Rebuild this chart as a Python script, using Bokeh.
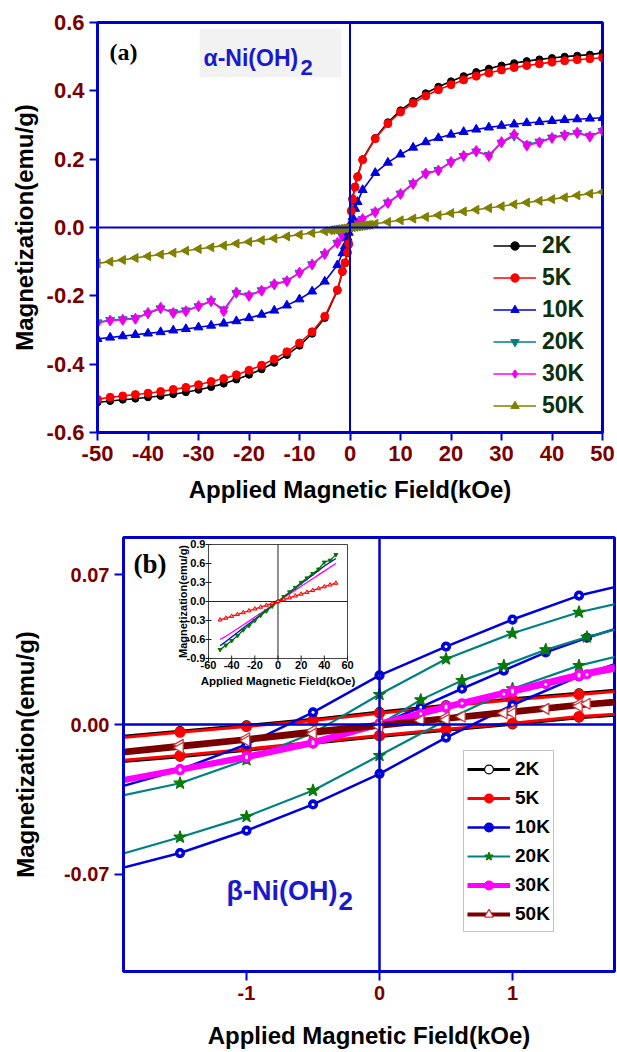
import math
from bokeh.plotting import figure
from bokeh.layouts import column
from bokeh.models import (Range1d, Span, Legend, LegendItem, FixedTicker, Label,
                          NumeralTickFormatter, BoxAnnotation)
from bokeh.core.properties import value
from bokeh.embed import file_html
from bokeh.resources import INLINE

# ---------------- panel (a) data : alpha-Ni(OH)2 ----------------
field_a = [-50, -47.5, -45, -42.5, -40, -37.5, -35, -32.5, -30, -27.5, -25, -22.5, -20, -17.5,
           -15, -12.5, -10, -7.5, -5, -2.5, -1.5, -1, -0.5, -0.25,
           0.25, 0.5, 1, 1.5, 2.5, 5, 7.5, 10, 12.5, 15, 17.5, 20, 22.5, 25, 27.5, 30, 32.5,
           35, 37.5, 40, 42.5, 45, 47.5, 50]
m2K_a = [-0.512, -0.508, -0.504, -0.501, -0.497, -0.493, -0.488, -0.482, -0.475, -0.467, -0.457,
         -0.445, -0.431, -0.415, -0.396, -0.373, -0.346, -0.311, -0.265, -0.185, -0.130, -0.105,
         -0.075, -0.050,
         0.050, 0.085, 0.120, 0.150, 0.200, 0.262, 0.308, 0.343, 0.370, 0.393, 0.412, 0.428,
         0.443, 0.455, 0.465, 0.474, 0.481, 0.487, 0.492, 0.496, 0.500, 0.503, 0.506, 0.511]
m5K_a = [-0.503, -0.497, -0.493, -0.489, -0.485, -0.480, -0.474, -0.468, -0.460, -0.451, -0.442,
         -0.431, -0.418, -0.403, -0.385, -0.364, -0.338, -0.305, -0.260, -0.183, -0.128, -0.103,
         -0.073, -0.048,
         0.048, 0.083, 0.118, 0.148, 0.198, 0.260, 0.304, 0.338, 0.364, 0.385, 0.403, 0.418,
         0.432, 0.443, 0.452, 0.461, 0.468, 0.474, 0.479, 0.484, 0.488, 0.491, 0.494, 0.497]
m10K_a = [-0.326, -0.322, -0.318, -0.314, -0.310, -0.306, -0.301, -0.297, -0.292, -0.287, -0.281,
          -0.274, -0.265, -0.255, -0.243, -0.228, -0.210, -0.187, -0.158, -0.110, -0.075, -0.055,
          -0.030, -0.015,
          0.015, 0.030, 0.055, 0.075, 0.110, 0.160, 0.190, 0.214, 0.234, 0.250, 0.262, 0.272,
          0.280, 0.287, 0.293, 0.298, 0.302, 0.306, 0.309, 0.312, 0.315, 0.317, 0.319, 0.321]
m20K_a = [-0.278, -0.271, -0.269, -0.265, -0.252, -0.237, -0.248, -0.243, -0.231, -0.216, -0.240,
          -0.192, -0.199, -0.184, -0.167, -0.156, -0.133, -0.108, -0.078, -0.045, -0.025, -0.017,
          -0.009, -0.004,
          0.003, 0.005, 0.009, 0.013, 0.025, 0.046, 0.073, 0.099, 0.129, 0.157, 0.168, 0.191,
          0.209, 0.222, 0.212, 0.248, 0.268, 0.243, 0.251, 0.263, 0.271, 0.276, 0.268, 0.282]
m30K_a = [-0.279, -0.272, -0.270, -0.267, -0.250, -0.235, -0.250, -0.245, -0.230, -0.215, -0.245,
          -0.190, -0.200, -0.185, -0.166, -0.157, -0.132, -0.108, -0.077, -0.045, -0.025, -0.017,
          -0.009, -0.004,
          0.003, 0.005, 0.009, 0.013, 0.025, 0.045, 0.072, 0.098, 0.128, 0.158, 0.167, 0.192,
          0.210, 0.224, 0.209, 0.250, 0.272, 0.240, 0.249, 0.262, 0.270, 0.278, 0.266, 0.283]
field_50K_a = [-50, -47.5, -45, -42.5, -40, -37.5, -35, -32.5, -30, -27.5, -25, -22.5, -20, -17.5,
               -15, -12.5, -10, -7.5, -5, -4, -3.5, -3, -2.5, -2, -1.5, -1, -0.5, 0, 0.5, 1, 1.5,
               2, 2.5, 3, 3.5, 4, 5, 7.5, 10, 12.5, 15, 17.5, 20, 22.5, 25, 27.5, 30, 32.5, 35,
               37.5, 40, 42.5, 45, 47.5, 50]
m50K_a = [-0.105, -0.100, -0.095, -0.089, -0.084, -0.079, -0.074, -0.068, -0.063, -0.058, -0.053,
          -0.047, -0.042, -0.037, -0.032, -0.026, -0.021, -0.016, -0.011, -0.008, -0.007, -0.006,
          -0.005, -0.004, -0.003, -0.002, -0.001, 0.000, 0.001, 0.002, 0.003, 0.004, 0.005, 0.006,
          0.007, 0.008, 0.011, 0.016, 0.021, 0.026, 0.031, 0.036, 0.042, 0.047, 0.052, 0.057,
          0.062, 0.068, 0.073, 0.078, 0.083, 0.088, 0.094, 0.099, 0.104]
xticks_a = [-50, -40, -30, -20, -10, 0, 10, 20, 30, 40, 50]
yticks_a = [-0.6, -0.4, -0.2, 0.0, 0.2, 0.4, 0.6]
labels = ["2K", "5K", "10K", "20K", "30K", "50K"]

# ---------------- panel (b) data : beta-Ni(OH)2 (low-field loops) ----------------
field_b_desc = [2.0, 1.5, 1.0, 0.5, 0.0, -0.5, -1.0, -1.5, -2.0]
field_b_asc = [-2.0, -1.5, -1.0, -0.5, 0.0, 0.5, 1.0, 1.5, 2.0]
field_b_virgin = [0.0, 0.31, 0.62, 0.935, 1.25, 1.56, 1.87]
m2K_b_desc = [0.0172, 0.0146, 0.0120, 0.0090, 0.0058, 0.0024, -0.0004, -0.0031, -0.0059]
m2K_b_asc = [-0.0176, -0.0150, -0.0120, -0.0088, -0.0056, -0.0027, 0.0001, 0.0032, 0.0053]
m5K_b_desc = [0.0165, 0.0140, 0.0115, 0.0085, 0.0053, 0.0019, -0.0009, -0.0036, -0.0065]
m5K_b_asc = [-0.0170, -0.0145, -0.0115, -0.0083, -0.0051, -0.0022, 0.0006, 0.0037, 0.0058]
m10K_b_desc = [0.0675, 0.0602, 0.0490, 0.0364, 0.0229, 0.0057, -0.0093, -0.0211, -0.0300]
m10K_b_asc = [-0.0680, -0.0600, -0.0495, -0.0373, -0.0230, -0.0061, 0.0091, 0.0225, 0.0330]
m10K_b_virgin = [0.0, 0.0081, 0.0167, 0.0252, 0.0337, 0.0405, 0.0465]
m20K_b_desc = [0.0595, 0.0524, 0.0426, 0.0306, 0.0140, -0.0040, -0.0165, -0.0274, -0.0340]
m20K_b_asc = [-0.0615, -0.0526, -0.0430, -0.0308, -0.0145, 0.0020, 0.0167, 0.0275, 0.0350]
m20K_b_virgin = [0.0, 0.0115, 0.0205, 0.0275, 0.0349, 0.0408, 0.0460]
m30K_b_desc = [0.0300, 0.0235, 0.0160, 0.0086, 0.0006, -0.0080, -0.0148, -0.0208, -0.0265]
m30K_b_asc = [-0.0270, -0.0214, -0.0155, -0.0089, -0.0002, 0.0078, 0.0152, 0.0226, 0.0290]
m30K_b_virgin = [0.0, 0.0050, 0.0099, 0.0143, 0.0188, 0.0234, 0.0270]
m50K_b_desc = [0.0122, 0.0097, 0.0066, 0.0034, 0.0003, -0.0028, -0.0064, -0.0095, -0.0127]
m50K_b_asc = [-0.0140, -0.0108, -0.0076, -0.0043, -0.0010, 0.0022, 0.0053, 0.0085, 0.0110]
m50K_b_virgin = [0.0, 0.0019, 0.0037, 0.0053, 0.0073, 0.0097, 0.0115]
xticks_b = [-1, 0, 1]
yticks_b = [-0.07, 0.0, 0.07]

# inset of panel (b): full field range
field_in = [-50, -45, -40, -35, -30, -25, -20, -15, -10, -5, 0, 5, 10, 15, 20, 25, 30, 35, 40, 45, 50]
m_in_red = [-0.290, -0.262, -0.233, -0.204, -0.175, -0.146, -0.117, -0.088, -0.059, -0.030, 0.0,
            0.030, 0.059, 0.088, 0.117, 0.146, 0.175, 0.204, 0.233, 0.262, 0.290]
m_in_blue = [-0.700, -0.630, -0.560, -0.490, -0.420, -0.350, -0.280, -0.210, -0.140, -0.070, 0.0,
             0.070, 0.140, 0.210, 0.280, 0.350, 0.420, 0.490, 0.560, 0.620, 0.680]
m_in_green = [-0.760, -0.690, -0.620, -0.540, -0.450, -0.380, -0.300, -0.220, -0.150, -0.075, 0.0,
              0.075, 0.150, 0.220, 0.300, 0.370, 0.440, 0.510, 0.620, 0.650, 0.740]
m_in_magenta = [-0.600, -0.550, -0.490, -0.430, -0.370, -0.310, -0.245, -0.185, -0.125, -0.060, 0.0,
                0.060, 0.120, 0.180, 0.240, 0.300, 0.360, 0.420, 0.480, 0.540, 0.600]
xticks_in = [-60, -40, -20, 0, 20, 40, 60]
xlabels_in = ["-60", "-40", "-20", "0", "20", "40", "60"]
yticks_in = [-0.9, -0.6, -0.3, 0.0, 0.3, 0.6, 0.9]
ylabels_in = ["-0.9", "-0.6", "-0.3", "0.0", "0.3", "0.6", "0.9"]

# ---------------- styling ----------------
FONT = "Liberation Sans"
BLUE = "#0000cc"
DRED = "#7a0000"


def style_axes(p, tick_px, title_px, tick_out, lab_std, xt_std, yt_std):
    p.outline_line_color = BLUE
    p.outline_line_width = 3
    p.grid.visible = False
    for ax in list(p.xaxis) + list(p.yaxis):
        ax.axis_line_color = BLUE
        ax.axis_line_width = 3
        ax.major_tick_line_color = BLUE
        ax.major_tick_line_width = 2
        ax.major_tick_out = tick_out
        ax.major_tick_in = 0
        ax.minor_tick_line_color = None
        ax.major_label_text_color = DRED
        ax.major_label_text_font = FONT
        ax.major_label_text_font_style = "bold"
        ax.major_label_text_font_size = tick_px
        ax.major_label_standoff = lab_std
        ax.axis_label_text_font = FONT
        ax.axis_label_text_font_style = "bold"
        ax.axis_label_text_font_size = title_px
        ax.axis_label_text_color = "black"
    p.xaxis.axis_label_standoff = xt_std
    p.yaxis.axis_label_standoff = yt_std


# ================= panel (a) =================
pa = figure(width=617, height=520, output_backend="svg", toolbar_location=None,
            x_range=Range1d(-50, 50), y_range=Range1d(-0.6, 0.6), frame_align=False,
            min_border_left=97, min_border_right=15, min_border_top=22, min_border_bottom=88)
pa.xaxis.axis_label = "Applied Magnetic Field(kOe)"
pa.yaxis.axis_label = "Magnetization(emu/g)"
pa.xaxis.ticker = FixedTicker(ticks=xticks_a)
pa.yaxis.ticker = FixedTicker(ticks=yticks_a)
pa.xaxis.formatter = NumeralTickFormatter(format="0")
pa.yaxis.formatter = NumeralTickFormatter(format="0.0")
style_axes(pa, "22px", "24px", 8, 5, 12, 6)

pa.add_layout(Span(location=0, dimension="height", line_color=BLUE, line_width=2))
pa.add_layout(Span(location=0, dimension="width", line_color=BLUE, line_width=2))

ra = {}


def add_a(label, xs, ys, color, marker, size, fill, angle=0.0):
    l = pa.line(xs, ys, line_color=color, line_width=1.6)
    s = pa.scatter(xs, ys, marker=marker, size=size, fill_color=fill, line_color=color,
                   line_width=1, angle=angle)
    ra[label] = [l, s]


add_a("20K", field_a, m20K_a, "#008080", "inverted_triangle", 9, "#008080")
add_a("30K", field_a, m30K_a, "#ff00ff", "diamond", 11, "#e600e6")
add_a("10K", field_a, m10K_a, "#0000dd", "triangle", 9, "#0000dd")
add_a("2K", field_a, m2K_a, "black", "circle", 7, "black")
add_a("5K", field_a, m5K_a, "#ff0000", "circle", 8, "#ff0000")
add_a("50K", field_50K_a, m50K_a, "#808000", "triangle", 9, "#808000", angle=math.pi / 2)

leg_a = Legend(items=[LegendItem(label=k, renderers=ra[k]) for k in labels],
               location=(396, 11))
leg_a.label_text_font = FONT
leg_a.label_text_font_style = "bold"
leg_a.label_text_font_size = "23px"
leg_a.label_text_color = "#0b300b"
leg_a.glyph_width = 43
leg_a.glyph_height = 21
leg_a.label_height = 32
leg_a.label_standoff = 6
leg_a.spacing = 0
leg_a.padding = 0
leg_a.margin = 0
leg_a.border_line_alpha = 0
leg_a.background_fill_alpha = 0
pa.add_layout(leg_a)

pa.add_layout(Label(x=-47.6, y=0.515, text="(a)", text_font="Liberation Serif",
                    text_font_style="bold", text_font_size="24px", text_color="black",
                    text_baseline="middle", text_align="left"))
pa.add_layout(BoxAnnotation(left=-29.8, right=-1.7, bottom=0.44, top=0.582,
                            fill_color="#f2f2f2", fill_alpha=1, line_color=None))
pa.add_layout(Label(x=-29.0, y=0.495, text="α-Ni(OH)", text_font=FONT,
                    text_font_style="bold", text_font_size="23px", text_color="#1a1acc",
                    text_baseline="alphabetic", text_align="left"))
pa.add_layout(Label(x=-29.0, y=0.495, x_offset=97, y_offset=-9, text="2", text_font=FONT,
                    text_font_style="bold", text_font_size="22px", text_color="#1a1acc",
                    text_baseline="alphabetic", text_align="left"))

# ================= panel (b) =================
bx0, bx1 = -1.925, 1.767
by0, by1 = -0.1153, 0.0873
pb = figure(width=617, height=532, output_backend="svg", toolbar_location=None,
            x_range=Range1d(bx0, bx1), y_range=Range1d(by0, by1), frame_align=False,
            min_border_left=123, min_border_right=3, min_border_top=17, min_border_bottom=81)
pb.xaxis.axis_label = "Applied Magnetic Field(kOe)"
pb.yaxis.axis_label = "Magnetization(emu/g)"
pb.xaxis.ticker = FixedTicker(ticks=xticks_b)
pb.yaxis.ticker = FixedTicker(ticks=yticks_b)
pb.xaxis.formatter = NumeralTickFormatter(format="0")
pb.yaxis.formatter = NumeralTickFormatter(format="0.00")
style_axes(pb, "20px", "24px", 9, 5, 19, 22)

pb.add_layout(Span(location=0, dimension="height", line_color=BLUE, line_width=2.5))
pb.add_layout(Span(location=0, dimension="width", line_color=BLUE, line_width=2.5))

rb = {}
loop_x = field_b_desc + field_b_asc


def add_b(label, ydesc, yasc, yvir, color, lw, marker, size, fill, mline, angle=0.0,
          highlight=False):
    ys = ydesc + yasc
    l = pb.line(loop_x, ys, line_color=color, line_width=lw)
    rends = [l]
    if yvir is not None:
        pb.line(field_b_virgin, yvir, line_color=color, line_width=lw)
    s = pb.scatter(loop_x, ys, marker=marker, size=size, fill_color=fill, line_color=mline,
                   line_width=1.2, angle=angle)
    rends.append(s)
    if yvir is not None:
        pb.scatter(field_b_virgin[1:], yvir[1:], marker=marker, size=size, fill_color=fill,
                   line_color=mline, line_width=1.2, angle=angle)
    if highlight:
        pb.scatter(loop_x, ys, marker="circle", size=3, fill_color="white", line_color=None)
        if yvir is not None:
            pb.scatter(field_b_virgin[1:], yvir[1:], marker="circle", size=3,
                       fill_color="white", line_color=None)
    rb[label] = rends


add_b("2K", m2K_b_desc, m2K_b_asc, None, "black", 3, "circle", 9, "white", "black")
add_b("5K", m5K_b_desc, m5K_b_asc, None, "#ff0000", 3, "circle", 10, "#ff0000", "#ff0000")
add_b("10K", m10K_b_desc, m10K_b_asc, m10K_b_virgin, "#0000dd", 2.5, "circle", 9, "#0000dd",
      "#0000dd", highlight=True)
add_b("20K", m20K_b_desc, m20K_b_asc, m20K_b_virgin, "#008080", 2.2, "star", 13, "#0a7a0a",
      "#0a7a0a")
add_b("30K", m30K_b_desc, m30K_b_asc, m30K_b_virgin, "#ff00ff", 5, "circle", 9, "#ff00ff",
      "#ff00ff", highlight=True)
add_b("50K", m50K_b_desc, m50K_b_asc, m50K_b_virgin, "#7a0000", 4, "triangle", 11, "white",
      "#cc3333", angle=math.pi / 2)

leg_b = Legend(items=[LegendItem(label=k, renderers=rb[k]) for k in labels],
               location=(340, 39))
leg_b.label_text_font = FONT
leg_b.label_text_font_style = "bold"
leg_b.label_text_font_size = "19px"
leg_b.label_text_color = "black"
leg_b.glyph_width = 43
leg_b.glyph_height = 22
leg_b.label_height = 29
leg_b.label_standoff = 5
leg_b.spacing = 0
leg_b.padding = 3
leg_b.margin = 0
leg_b.border_line_color = "#888888"
leg_b.border_line_width = 1
leg_b.background_fill_color = "white"
pb.add_layout(leg_b)

pb.add_layout(Label(x=-1.85, y=0.0747, text="(b)", text_font="Liberation Serif",
                    text_font_style="bold", text_font_size="27px", text_color="black",
                    text_baseline="middle", text_align="left"))
pb.add_layout(Label(x=-1.15, y=-0.0775, text="β-Ni(OH)", text_font=FONT,
                    text_font_style="bold", text_font_size="27px", text_color="#1a1acc",
                    text_baseline="alphabetic", text_align="left"))
pb.add_layout(Label(x=-1.15, y=-0.0775, x_offset=112, y_offset=-10, text="2", text_font=FONT,
                    text_font_style="bold", text_font_size="26px", text_color="#1a1acc",
                    text_baseline="alphabetic", text_align="left"))

# ---- inset (own scales through extra ranges) ----
ix0, ix1 = -60.0, 60.0
iy0, iy1 = -0.9, 0.9
fx0, fx1 = 0.1731, 0.4562   # inset box as fraction of frame width
fy0, fy1 = 0.7212, 0.9839   # inset box as fraction of frame height
sxr = (ix1 - ix0) / (fx1 - fx0)
syr = (iy1 - iy0) / (fy1 - fy0)
pb.extra_x_ranges = {"ix": Range1d(ix0 - fx0 * sxr, ix0 + (1 - fx0) * sxr)}
pb.extra_y_ranges = {"iy": Range1d(iy0 - fy0 * syr, iy0 + (1 - fy0) * syr)}
IR = dict(x_range_name="ix", y_range_name="iy")

pb.quad(left=[ix0], right=[ix1], bottom=[iy0], top=[iy1], fill_color="white",
        line_color="#444444", line_width=1, **IR)
pb.segment(x0=[ix0, 0], y0=[0, iy0], x1=[ix1, 0], y1=[0, iy1], line_color="#222222",
           line_width=1, **IR)
pb.scatter(xticks_in, [iy0] * len(xticks_in), marker="dash", angle=math.pi / 2, size=6,
           line_color="#222222", **IR)
pb.scatter([ix0] * len(yticks_in), yticks_in, marker="dash", size=6, line_color="#222222", **IR)

pb.line(field_in, m_in_magenta, line_color="#ff00ff", line_width=1.3, **IR)
pb.line(field_in, m_in_blue, line_color="#0000ee", line_width=1.3, **IR)
pb.line(field_in, m_in_green, line_color="#007700", line_width=1.3, **IR)
pb.scatter(field_in, m_in_green, marker="inverted_triangle", size=4, fill_color="#007700",
           line_color="#007700", **IR)
pb.line(field_in, m_in_red, line_color="#ff0000", line_width=1.3, **IR)
pb.scatter(field_in, m_in_red, marker="triangle", size=4, fill_color="#ffaaaa",
           line_color="#ff0000", **IR)

pb.text(x=xticks_in, y=[iy0] * len(xticks_in), text=xlabels_in, x_offset=0, y_offset=3,
        text_font=value(FONT), text_font_style="bold", text_font_size="11px",
        text_align="center", text_baseline="top", text_color="black", **IR)
pb.text(x=[ix0] * len(yticks_in), y=yticks_in, text=ylabels_in, x_offset=-3, y_offset=0,
        text_font=value(FONT), text_font_style="bold", text_font_size="11px",
        text_align="right", text_baseline="middle", text_color="black", **IR)
pb.text(x=[0.0], y=[iy0], text=["Applied Magnetic Field(kOe)"], y_offset=17,
        text_font=value(FONT), text_font_style="bold", text_font_size="11.5px",
        text_align="center", text_baseline="top", text_color="black", **IR)
pb.text(x=[ix0], y=[0.0], text=["Magnetization(emu/g)"], x_offset=-25, angle=math.pi / 2,
        text_font=value(FONT), text_font_style="bold", text_font_size="11px",
        text_align="center", text_baseline="middle", text_color="black", **IR)

layout = column(pa, pb, spacing=0)
open("out.html", "w").write(file_html(layout, INLINE))
